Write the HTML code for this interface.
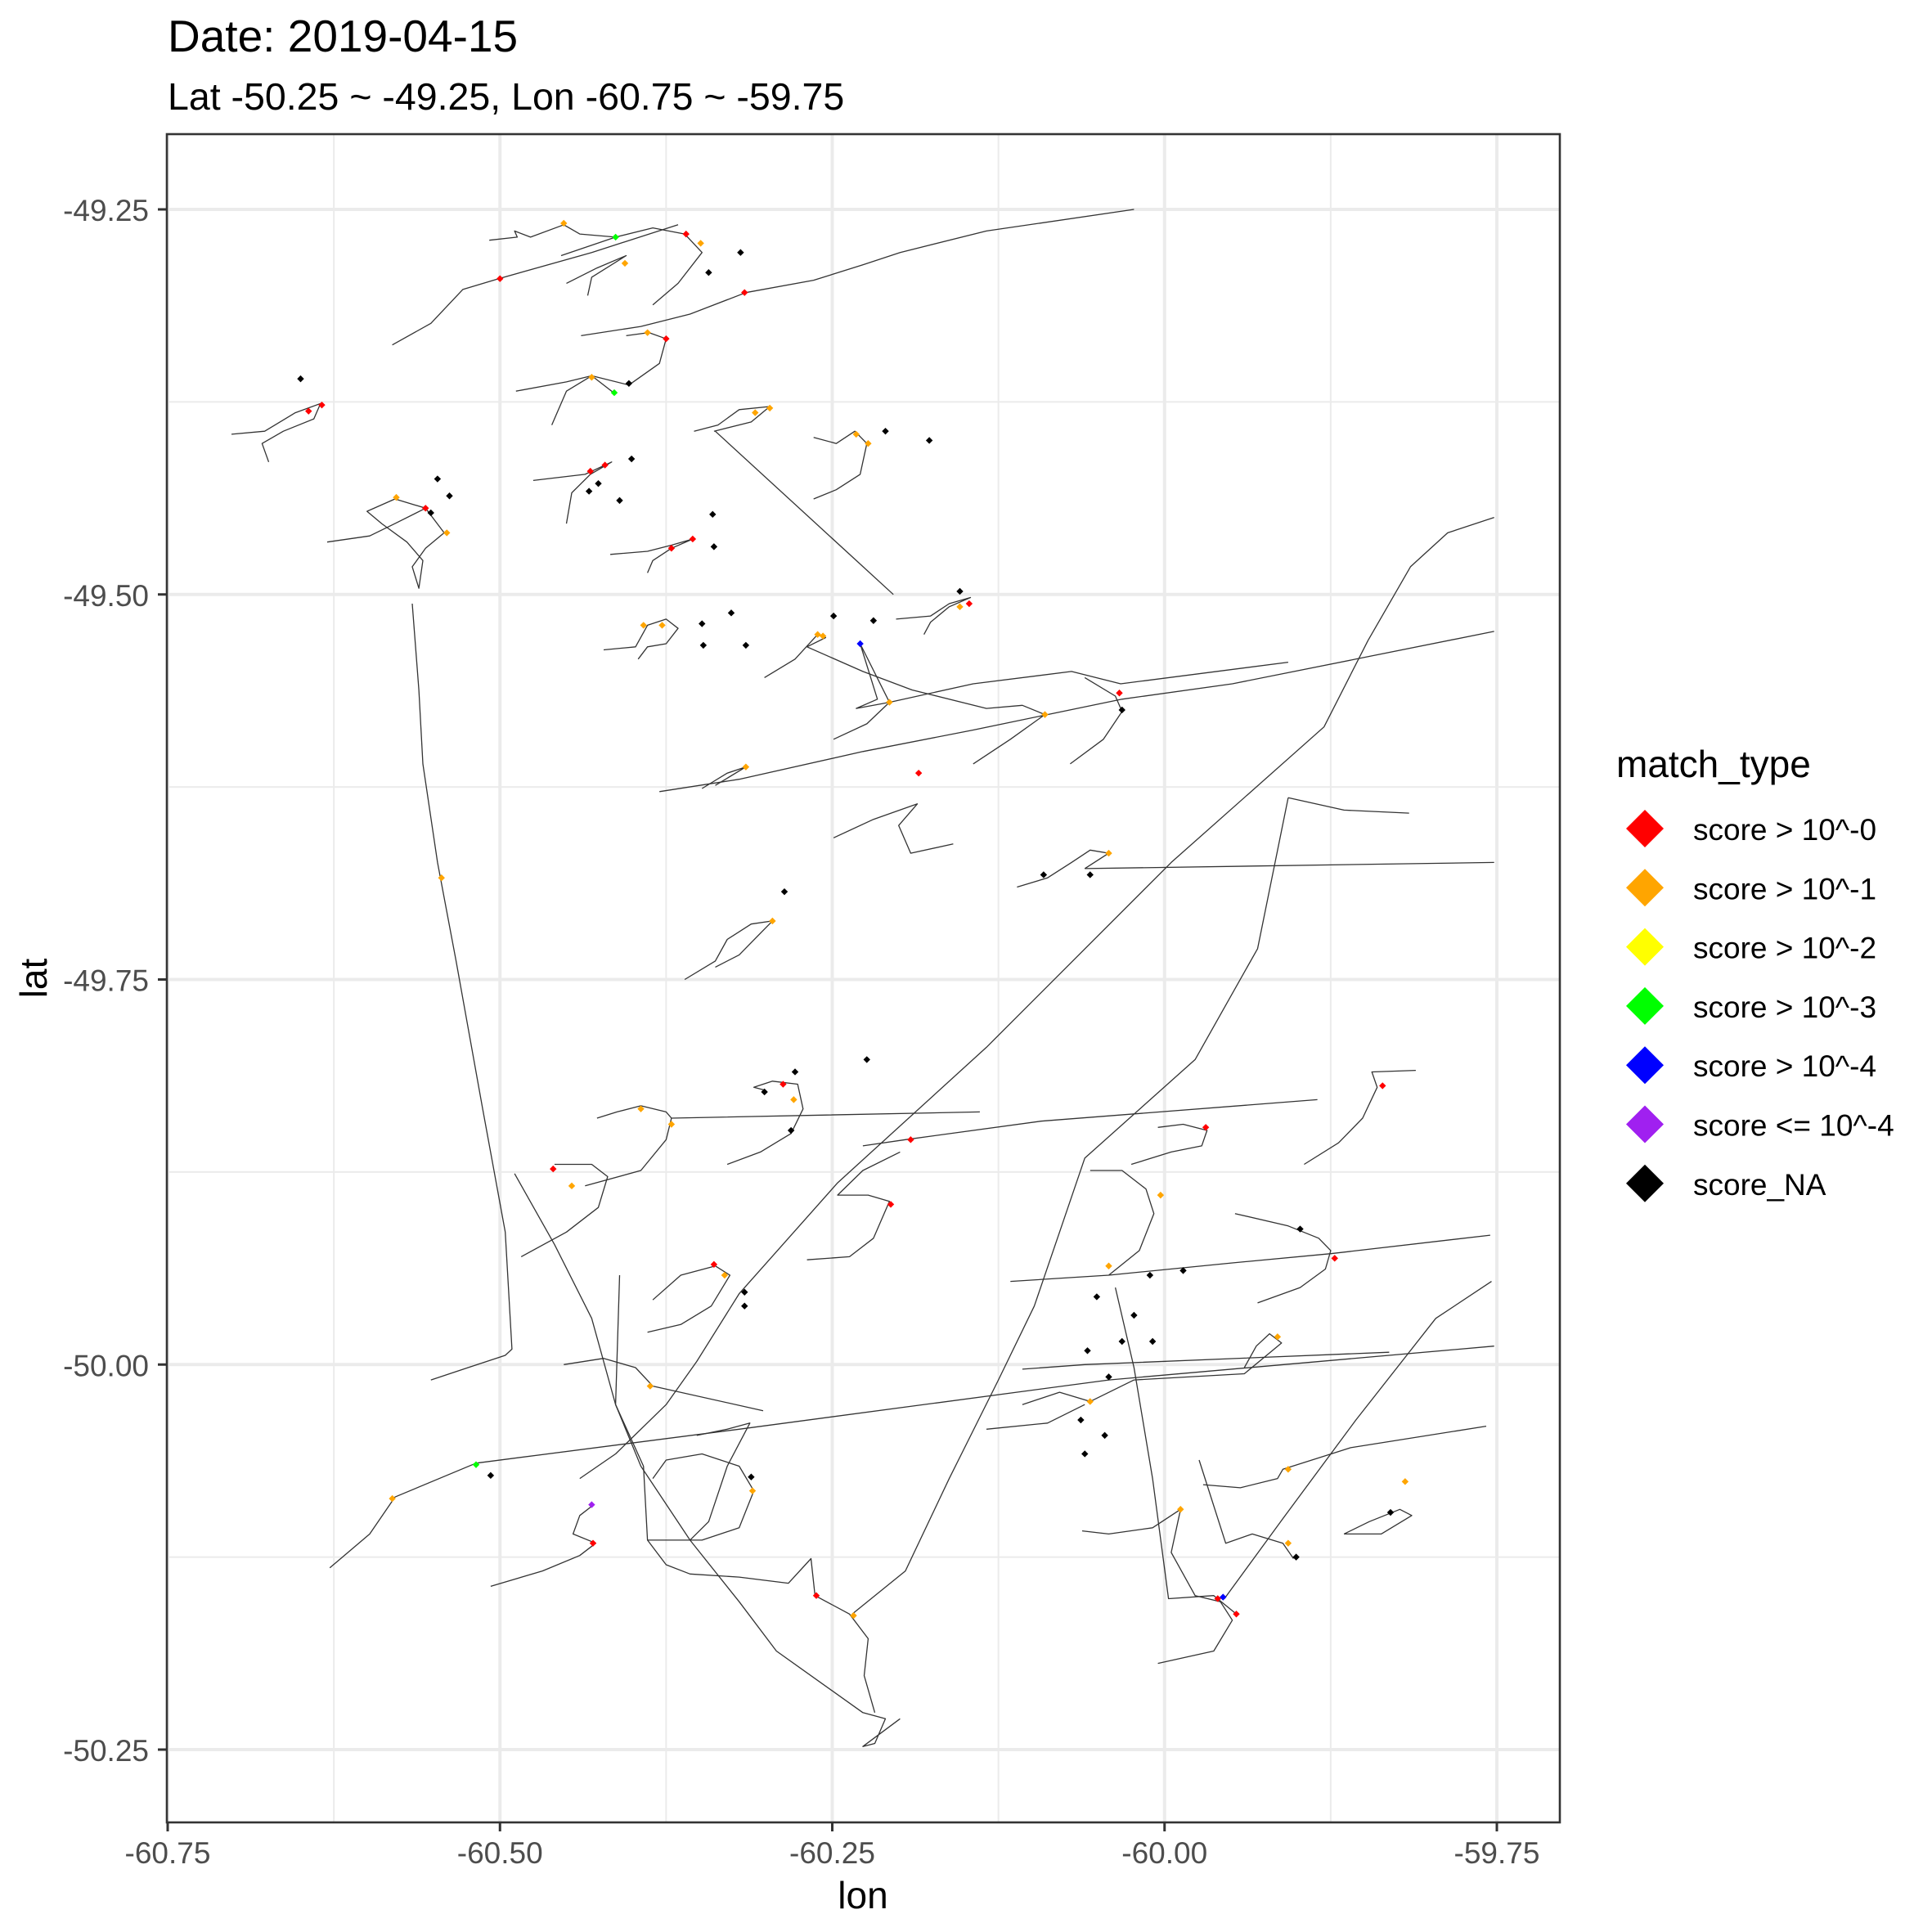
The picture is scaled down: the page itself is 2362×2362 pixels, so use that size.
<!DOCTYPE html>
<html><head><meta charset="utf-8"><style>
html,body{margin:0;padding:0;background:#fff}
svg{display:block;font-family:"Liberation Sans",Arial,sans-serif}
</style></head><body>
<svg id="chart" width="2362" height="2362" viewBox="0 0 2362 2362" xmlns="http://www.w3.org/2000/svg">
<rect x="0" y="0" width="2362" height="2362" fill="#fff"/>
<text x="205" y="63" font-size="55" fill="#000">Date: 2019-04-15</text>
<text x="205" y="134" font-size="46.5" fill="#000">Lat -50.25 ~ -49.25, Lon -60.75 ~ -59.75</text>
<g id="grid"></g>
<g id="tracks"></g>
<g id="points"></g>
<rect x="204" y="164" width="1703" height="2064" fill="none" stroke="#333" stroke-width="2.6"/>
<g id="axes"></g>
<text x="1055" y="2333" font-size="46" text-anchor="middle" fill="#000">lon</text>
<text x="57" y="1196" font-size="46" text-anchor="middle" fill="#000" transform="rotate(-90 57 1196)">lat</text>
<g id="legend">
<text x="1976" y="950" font-size="46" fill="#000">match_type</text>
</g>
</svg>
<script>
const xTicks=[-60.75,-60.5,-60.25,-60.0,-59.75];
const xTickLabels=["-60.75","-60.50","-60.25","-60.00","-59.75"];
const yTicks=[-49.25,-49.5,-49.75,-50.0,-50.25];
const yTickLabels=["-49.25","-49.50","-49.75","-50.00","-50.25"];
const xMinor=[-60.625,-60.375,-60.125,-59.875];
const yMinor=[-49.375,-49.625,-49.875,-50.125];
const legendLabels=["score > 10^-0","score > 10^-1","score > 10^-2","score > 10^-3","score > 10^-4","score <= 10^-4","score_NA"];
const legendColors=["#ff0000","#ffa500","#ffff00","#00ff00","#0000ff","#a020f0","#000000"];

const trackLon=[
[-60.581,-60.552,-60.528,-60.501,-60.431,-60.366],
[-60.439,-60.394,-60.357,-60.315,-60.264,-60.227,-60.199,-60.134,-60.023],
[-60.508,-60.487,-60.489,-60.477,-60.452,-60.440,-60.413,-60.385,-60.361,-60.348,-60.366,-60.385],
[-60.454,-60.413],
[-60.450,-60.427,-60.405,-60.431,-60.434],
[-60.405,-60.388,-60.375,-60.380,-60.403,-60.431,-60.450,-60.461],
[-60.488,-60.450,-60.431,-60.413],
[-60.702,-60.677,-60.654,-60.635,-60.640,-60.663,-60.679,-60.674],
[-60.354,-60.336,-60.320,-60.297,-60.311,-60.339],
[-60.338,-60.204],
[-60.264,-60.247,-60.233,-60.224,-60.229,-60.247,-60.264],
[-60.475,-60.436,-60.416,-60.432,-60.446,-60.450],
[-60.630,-60.598,-60.579,-60.556,-60.542,-60.556,-60.566,-60.561,-60.558,-60.570,-60.589,-60.600,-60.579,-60.556],
[-60.566,-60.561,-60.558,-60.547,-60.533,-60.513,-60.496,-60.491,-60.496,-60.524,-60.552],
[-60.417,-60.389,-60.371,-60.355,-60.371,-60.385,-60.389],
[-60.422,-60.398,-60.389,-60.375,-60.366,-60.375,-60.389,-60.396],
[-60.202,-60.176,-60.162,-60.146,-60.162,-60.176,-60.181],
[-60.301,-60.278,-60.261,-60.255,-60.269,-60.227,-60.190,-60.134,-60.107,-60.090],
[-60.229,-60.216,-60.232,-60.207,-60.229],
[-60.249,-60.224,-60.207,-60.144,-60.070,-60.033,-59.907],
[-60.380,-60.320,-60.227,-60.144,-60.088,-60.032,-59.949,-59.856,-59.752],
[-60.348,-60.329,-60.315,-60.338],
[-60.144,-60.116,-60.090],
[-60.071,-60.046,-60.032,-60.037,-60.060],
[-60.249,-60.219,-60.186,-60.200,-60.191,-60.159],
[-60.440,-60.413,-60.375,-60.352,-60.320,-60.246,-60.134,-59.995,-59.880,-59.847,-59.815,-59.787,-59.752],
[-59.907,-59.865,-59.816],
[-59.907,-59.930,-59.977,-60.060,-60.079,-60.098,-60.125,-60.162,-60.195,-60.235],
[-60.060,-59.752],
[-60.111,-60.088,-60.070,-60.056,-60.042,-60.060],
[-60.361,-60.338,-60.329,-60.311,-60.295,-60.320,-60.338],
[-60.427,-60.412,-60.394,-60.375,-60.371,-60.139],
[-60.436,-60.394,-60.375,-60.371],
[-60.329,-60.304,-60.281,-60.272,-60.276,-60.295,-60.309,-60.300],
[-60.227,-60.195,-60.093,-59.885],
[-60.269,-60.237,-60.219,-60.207,-60.223,-60.246,-60.227,-60.199],
[-60.484,-60.450,-60.426,-60.419,-60.431,-60.459],
[-60.489,-60.459,-60.431,-60.413,-60.394,-60.357,-60.320,-60.292,-60.227,-60.210,-60.218,-60.227,-60.199],
[-60.389,-60.364,-60.341,-60.327,-60.338,-60.364,-60.385],
[-60.452,-60.422,-60.398,-60.385,-60.302],
[-60.628,-60.598,-60.579,-60.518,-60.320,-60.042,-59.752],
[-60.116,-60.042,-59.949,-59.875,-59.755],
[-59.930,-59.898,-59.879,-59.875,-59.884,-59.907,-59.947],
[-59.895,-59.869,-59.851,-59.840,-59.844,-59.811],
[-60.025,-59.995,-59.972,-59.968,-59.986,-60.005],
[-60.042,-60.019,-60.008,-60.014,-60.032,-60.056],
[-60.037,-60.023,-60.009,-59.997,-59.963,-59.946],
[-60.005,-59.963,-59.949,-59.958,-59.977,-59.995,-59.988,-60.009,-60.042,-60.062],
[-59.955,-59.911,-59.856,-59.796,-59.754],
[-59.974,-59.954,-59.934,-59.911,-59.903],
[-59.971,-59.943,-59.915,-59.911,-59.860,-59.758],
[-59.865,-59.846,-59.823,-59.814,-59.837,-59.865],
[-60.107,-60.060,-59.831],
[-60.107,-60.079,-60.056,-60.023,-59.940,-59.912,-59.921,-59.931,-59.940],
[-60.134,-60.088,-60.060],
[-60.507,-60.468,-60.440,-60.428,-60.445,-60.440,-60.431],
[-60.410,-60.413,-60.392,-60.389,-60.375,-60.357,-60.320,-60.283,-60.266,-60.263,-60.237,-60.223,-60.226,-60.218],
[-60.389,-60.348,-60.320,-60.309,-60.320,-60.348,-60.375,-60.385],
[-60.352,-60.329,-60.312,-60.329,-60.343,-60.357]
];
const trackLat=[
[-49.338,-49.324,-49.302,-49.295,-49.278,-49.260],
[-49.332,-49.326,-49.318,-49.304,-49.296,-49.286,-49.278,-49.264,-49.250],
[-49.270,-49.268,-49.264,-49.268,-49.260,-49.266,-49.268,-49.262,-49.266,-49.278,-49.298,-49.312],
[-49.280,-49.268],
[-49.298,-49.288,-49.280,-49.294,-49.306],
[-49.332,-49.330,-49.334,-49.350,-49.364,-49.358,-49.368,-49.390],
[-49.368,-49.362,-49.358,-49.370],
[-49.396,-49.394,-49.382,-49.376,-49.386,-49.394,-49.402,-49.414],
[-49.394,-49.390,-49.380,-49.378,-49.388,-49.394],
[-49.394,-49.500],
[-49.398,-49.402,-49.394,-49.402,-49.422,-49.432,-49.438],
[-49.426,-49.422,-49.414,-49.422,-49.434,-49.454],
[-49.466,-49.462,-49.454,-49.444,-49.460,-49.470,-49.482,-49.496,-49.478,-49.466,-49.454,-49.446,-49.438,-49.444],
[-49.506,-49.562,-49.610,-49.674,-49.738,-49.834,-49.914,-49.990,-49.994,-50.002,-50.010],
[-49.474,-49.472,-49.468,-49.464,-49.470,-49.478,-49.486],
[-49.536,-49.534,-49.520,-49.516,-49.522,-49.532,-49.534,-49.542],
[-49.516,-49.514,-49.506,-49.502,-49.508,-49.518,-49.526],
[-49.554,-49.542,-49.526,-49.528,-49.534,-49.550,-49.562,-49.574,-49.572,-49.578],
[-49.532,-49.568,-49.574,-49.570,-49.532],
[-49.594,-49.584,-49.570,-49.558,-49.550,-49.558,-49.544],
[-49.628,-49.620,-49.602,-49.588,-49.578,-49.568,-49.558,-49.542,-49.524],
[-49.626,-49.616,-49.612,-49.624],
[-49.610,-49.594,-49.578],
[-49.610,-49.594,-49.576,-49.566,-49.554],
[-49.658,-49.646,-49.636,-49.650,-49.668,-49.662],
[-50.074,-50.058,-50.026,-49.998,-49.954,-49.882,-49.794,-49.674,-49.586,-49.530,-49.482,-49.460,-49.450],
[-49.632,-49.640,-49.642],
[-49.632,-49.730,-49.802,-49.866,-49.914,-49.962,-50.010,-50.074,-50.134,-50.162],
[-49.678,-49.674],
[-49.690,-49.684,-49.674,-49.666,-49.668,-49.678],
[-49.750,-49.738,-49.724,-49.714,-49.712,-49.734,-49.742],
[-49.840,-49.836,-49.832,-49.836,-49.840,-49.836],
[-49.884,-49.874,-49.854,-49.840],
[-49.870,-49.862,-49.850,-49.834,-49.818,-49.816,-49.820,-49.822],
[-49.858,-49.854,-49.842,-49.828],
[-49.932,-49.930,-49.918,-49.894,-49.890,-49.890,-49.874,-49.862],
[-49.930,-49.914,-49.898,-49.878,-49.870,-49.870],
[-49.876,-49.922,-49.970,-50.026,-50.066,-50.114,-50.154,-50.186,-50.226,-50.230,-50.246,-50.248,-50.230],
[-49.979,-49.974,-49.962,-49.942,-49.936,-49.942,-49.958],
[-50.000,-49.996,-50.002,-50.014,-50.030],
[-50.132,-50.110,-50.086,-50.064,-50.042,-50.010,-49.988],
[-49.946,-49.942,-49.934,-49.928,-49.916],
[-49.960,-49.950,-49.938,-49.926,-49.918,-49.910,-49.902],
[-49.870,-49.856,-49.840,-49.820,-49.810,-49.809],
[-49.870,-49.862,-49.858,-49.848,-49.844,-49.846],
[-49.942,-49.926,-49.902,-49.886,-49.874,-49.874],
[-49.950,-50.002,-50.074,-50.152,-50.150,-50.162],
[-50.194,-50.186,-50.166,-50.154,-50.150,-50.122,-50.094,-50.106,-50.110,-50.108],
[-50.152,-50.100,-50.036,-49.970,-49.946],
[-50.062,-50.116,-50.110,-50.116,-50.126],
[-50.078,-50.080,-50.074,-50.068,-50.054,-50.040],
[-50.110,-50.102,-50.094,-50.098,-50.110,-50.110],
[-50.003,-50.000,-49.992],
[-50.026,-50.018,-50.024,-50.010,-50.006,-49.986,-49.980,-49.988,-50.002],
[-50.042,-50.038,-50.026],
[-50.144,-50.134,-50.124,-50.116,-50.110,-50.098,-50.092],
[-49.942,-50.026,-50.066,-50.114,-50.130,-50.136,-50.138,-50.142,-50.126,-50.150,-50.162,-50.178,-50.202,-50.226],
[-50.114,-50.114,-50.106,-50.082,-50.066,-50.058,-50.062,-50.074],
[-50.046,-50.042,-50.038,-50.066,-50.102,-50.114]
];

const redLon=[-60.360,-60.500,-60.316,-60.375,-60.634,-60.644,-60.421,-60.432,-60.556,-60.355,-60.371,-60.147,-60.034,-60.185,-60.287,-60.191,-60.460,-59.969,-60.206,-60.339,-59.872,-59.836,-60.430,-60.262,-59.960,-59.946];
const redLat=[-49.266,-49.295,-49.304,-49.334,-49.377,-49.381,-49.416,-49.420,-49.444,-49.464,-49.470,-49.506,-49.564,-49.616,-49.818,-49.854,-49.873,-49.846,-49.896,-49.935,-49.931,-49.819,-50.116,-50.150,-50.152,-50.162];
const orangeLon=[-60.452,-60.349,-60.406,-60.389,-60.431,-60.297,-60.308,-60.232,-60.223,-60.578,-60.540,-60.392,-60.378,-60.154,-60.261,-60.257,-60.207,-60.090,-60.315,-60.042,-60.544,-60.295,-60.394,-60.371,-60.279,-60.003,-60.446,-60.331,-60.042,-59.915,-60.387,-60.056,-60.581,-60.310,-59.988,-59.907,-59.907,-59.819,-60.234];
const orangeLat=[-49.259,-49.272,-49.285,-49.330,-49.359,-49.379,-49.382,-49.396,-49.402,-49.437,-49.460,-49.520,-49.520,-49.508,-49.526,-49.527,-49.570,-49.578,-49.612,-49.668,-49.684,-49.712,-49.834,-49.844,-49.828,-49.890,-49.884,-49.942,-49.936,-49.982,-50.014,-50.024,-50.087,-50.082,-50.094,-50.068,-50.116,-50.076,-50.163];
const greenLon=[-60.413,-60.414,-60.518];
const greenLat=[-49.268,-49.369,-50.065];
const blueLon=[-60.229,-59.956];
const blueLat=[-49.532,-50.151];
const purpleLon=[-60.431];
const purpleLat=[-50.091];
const naLon=[-60.650,-60.319,-60.343,-60.403,-60.401,-60.426,-60.433,-60.410,-60.547,-60.552,-60.538,-60.340,-60.339,-60.210,-60.177,-60.154,-60.348,-60.326,-60.347,-60.315,-60.249,-60.219,-60.032,-60.286,-60.091,-60.056,-60.224,-60.278,-60.301,-60.281,-59.898,-60.011,-59.986,-60.051,-60.023,-60.316,-60.316,-60.032,-60.009,-60.058,-60.042,-60.063,-60.045,-60.060,-60.311,-60.507,-59.830,-59.901];
const naLat=[-49.360,-49.278,-49.291,-49.363,-49.412,-49.428,-49.433,-49.439,-49.425,-49.447,-49.436,-49.448,-49.469,-49.394,-49.400,-49.498,-49.519,-49.512,-49.533,-49.533,-49.514,-49.517,-49.575,-49.693,-49.682,-49.682,-49.802,-49.810,-49.823,-49.848,-49.912,-49.942,-49.939,-49.956,-49.968,-49.953,-49.962,-49.985,-49.985,-49.991,-50.008,-50.036,-50.046,-50.058,-50.073,-50.072,-50.096,-50.125];

const NS='http://www.w3.org/2000/svg';
function xs(lon){return 205+(lon+60.75)*1625;}
function ys(lat){return 256+(-49.25-lat)*1883;}
function mk(tag,attrs,parent){const e=document.createElementNS(NS,tag);for(const k in attrs)e.setAttribute(k,attrs[k]);parent.appendChild(e);return e;}

const grid=document.getElementById('grid');
xMinor.forEach(v=>{const l=mk('line',{x1:xs(v),x2:xs(v),y1:164,y2:2228,stroke:'#ebebeb','stroke-width':2},grid);

});
yMinor.forEach(v=>{const l=mk('line',{x1:204,x2:1907,y1:ys(v),y2:ys(v),stroke:'#ebebeb','stroke-width':2},grid);

});
xTicks.forEach(v=>{const l=mk('line',{x1:xs(v),x2:xs(v),y1:164,y2:2228,stroke:'#ebebeb','stroke-width':4},grid);

});
yTicks.forEach(v=>{const l=mk('line',{x1:204,x2:1907,y1:ys(v),y2:ys(v),stroke:'#ebebeb','stroke-width':4},grid);

});

const axes=document.getElementById('axes');
xTicks.forEach((v,i)=>{
const t=mk('line',{x1:xs(v),x2:xs(v),y1:2228,y2:2239,stroke:'#333','stroke-width':3},axes);


const tx=mk('text',{x:xs(v),y:2278,'font-size':37,'text-anchor':'middle',fill:'#4d4d4d'},axes);
tx.textContent=xTickLabels[i];

});
yTicks.forEach((v,i)=>{
const t=mk('line',{x1:193,x2:204,y1:ys(v),y2:ys(v),stroke:'#333','stroke-width':3},axes);


const tx=mk('text',{x:182,y:ys(v)+14,'font-size':37,'text-anchor':'end',fill:'#4d4d4d'},axes);
tx.textContent=yTickLabels[i];

});

const tg=document.getElementById('tracks');
trackLon.forEach((lons,i)=>{
const pts=lons.map((lo,j)=>xs(lo).toFixed(1)+','+ys(trackLat[i][j]).toFixed(1)).join(' ');
const p=mk('polyline',{points:pts,fill:'none',stroke:'#333','stroke-width':1.3,'stroke-linejoin':'round'},tg);

});

const pg=document.getElementById('points');
const groups=[[redLon,redLat,'#ff0000','point-score-gt-1'],[orangeLon,orangeLat,'#ffa500','point-score-gt-0.1'],[greenLon,greenLat,'#00ff00','point-score-gt-0.001'],[blueLon,blueLat,'#0000ff','point-score-gt-0.0001'],[purpleLon,purpleLat,'#a020f0','point-score-le-0.0001'],[naLon,naLat,'#000000','point-score-na']];
groups.forEach(g=>{g[0].forEach((lo,j)=>{
const x=xs(lo),y=ys(g[1][j]),r=4.2;
const d=mk('polygon',{points:`${x},${y-r} ${x+r},${y} ${x},${y+r} ${x-r},${y}`,fill:g[2]},pg);

});});

const lg=document.getElementById('legend');
legendLabels.forEach((lab,i)=>{
const cy=1013+i*72.3,cx=2011,r=23;
const k=mk('polygon',{points:`${cx},${cy-r} ${cx+r},${cy} ${cx},${cy+r} ${cx-r},${cy}`,fill:legendColors[i]},lg);


const t=mk('text',{x:2070,y:cy+14,'font-size':37,fill:'#000'},lg);
t.textContent=lab;

});
</script>
</body></html>
